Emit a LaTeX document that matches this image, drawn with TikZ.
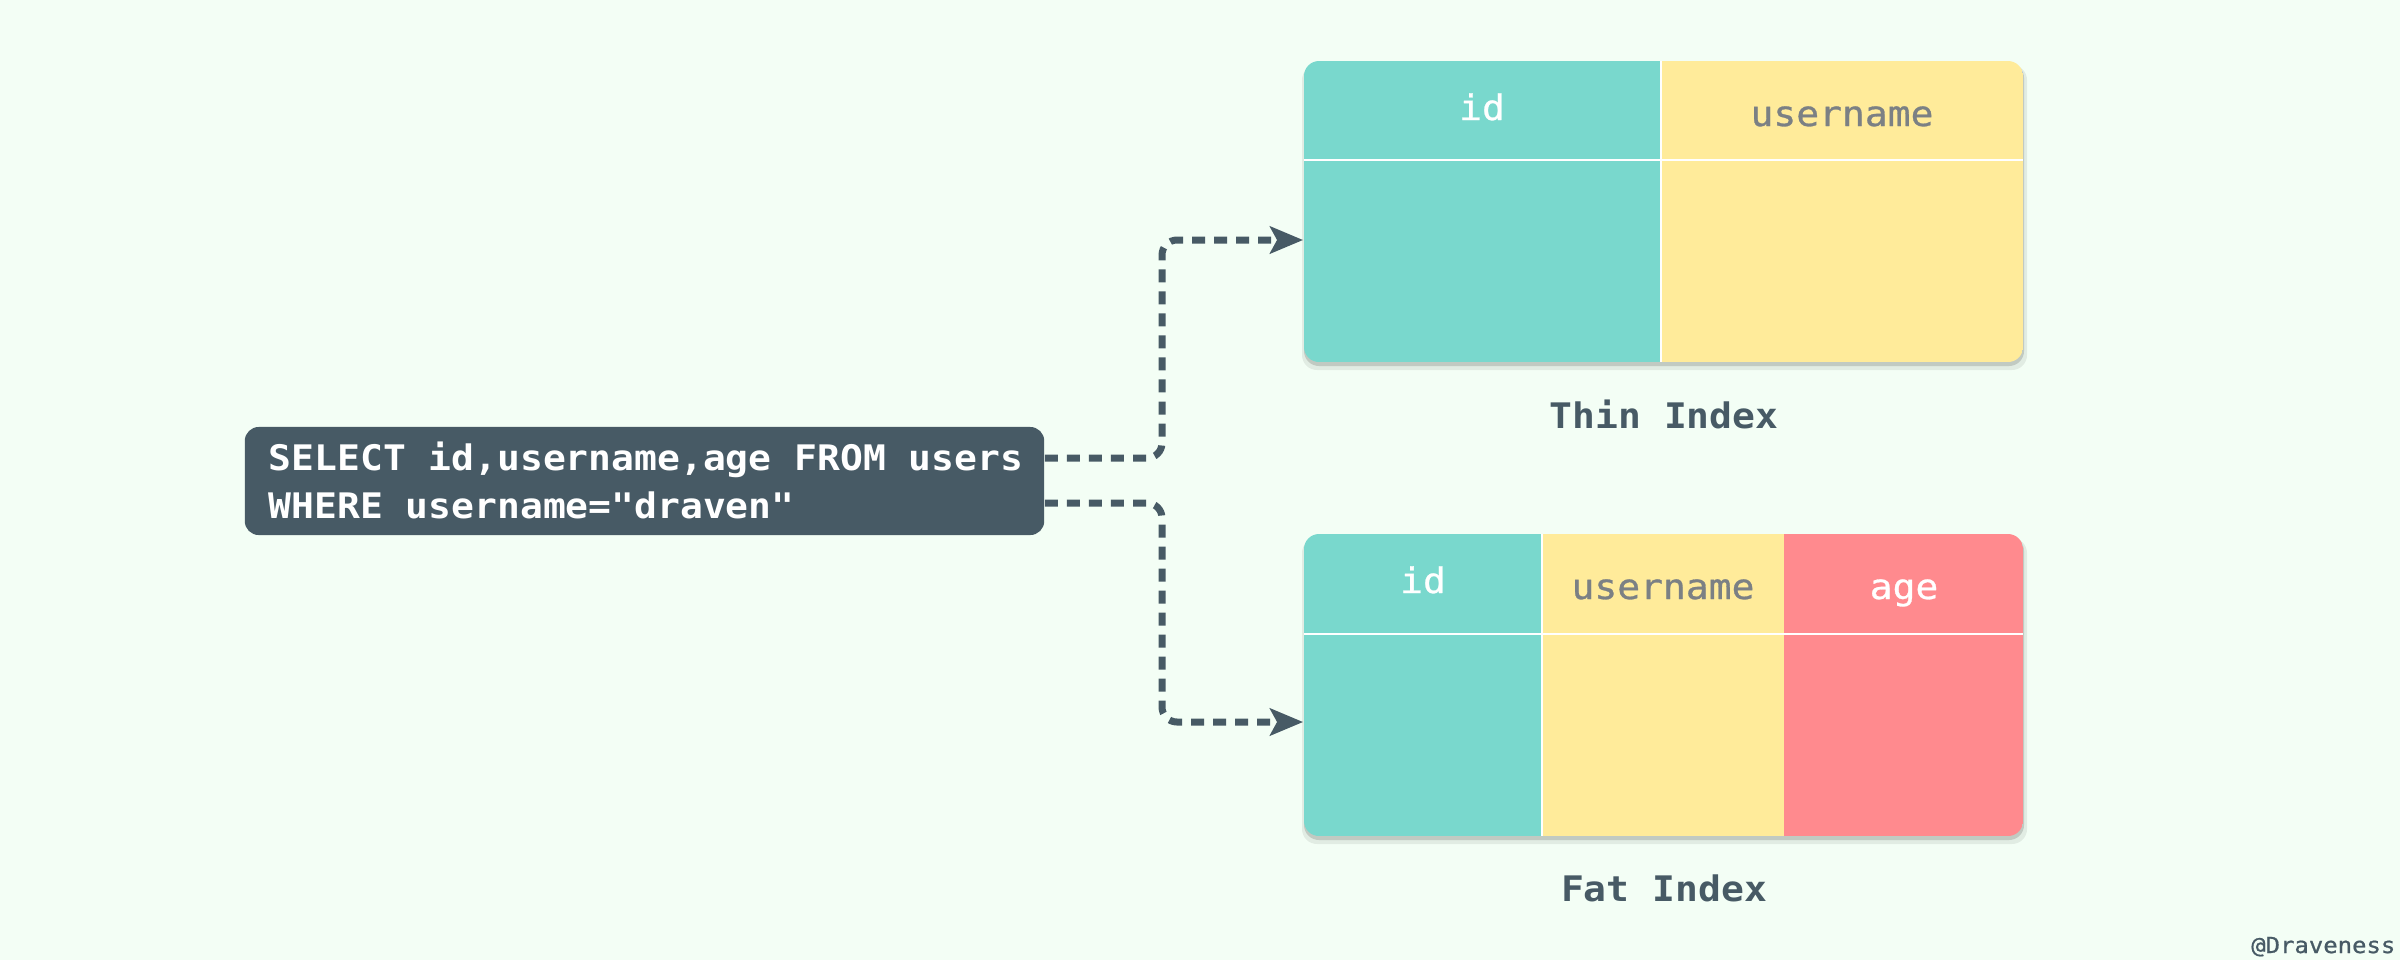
\documentclass[tikz,border=0pt]{standalone}
\usepackage{fontspec}
\usetikzlibrary{arrows.meta,calc}
\newfontfamily\codefont[FakeStretch=1.08]{DejaVu Sans Mono}
\newfontfamily\hdrfont[FakeStretch=1.08,FakeBold=0.8]{DejaVu Sans Mono}
\definecolor{bg}{HTML}{F3FEF5}
\definecolor{tealc}{HTML}{79D8CD}
\definecolor{yellowc}{HTML}{FFEB9A}
\definecolor{redc}{HTML}{FF8A8E}
\definecolor{darkc}{HTML}{475A65}
\definecolor{grayc}{HTML}{7B8084}
\tikzset{
  tblbox/.style={inner sep=0pt, minimum width=7.19cm, minimum height=3.01cm},
  sqlbox/.style={fill=darkc, rounded corners=0.14cm, inner sep=0pt, minimum width=7.99cm, minimum height=1.08cm},
  sqltext/.style={text=white, font=\codefont\bfseries\fontsize{10}{12}\selectfont, anchor=base west, inner sep=0pt},
  hdrw/.style={text=white, font=\hdrfont\fontsize{10}{12}\selectfont, anchor=base, inner sep=0pt},
  hdrg/.style={text=grayc, font=\hdrfont\fontsize{10}{12}\selectfont, anchor=base, inner sep=0pt},
  caption/.style={text=darkc, font=\codefont\bfseries\fontsize{10}{12}\selectfont, anchor=base, inner sep=0pt},
  sign/.style={text=darkc, font=\hdrfont\fontsize{6.3}{8}\selectfont, anchor=base east, inner sep=0pt},
  conn/.style={draw=darkc, line width=0.07cm, dash pattern=on 0.13cm off 0.09cm, rounded corners=0.15cm,
    -{Stealth[length=0.33cm, width=0.27cm, inset=0.07cm]}},
  divider/.style={draw=white, line width=0.025cm},
  shadowc/.style={fill=black, rounded corners=0.15cm}
}
\begin{document}
\begin{tikzpicture}[x=0.01cm,y=-0.01cm]
\useasboundingbox[fill=bg] (0,0) rectangle (2400,960);

% ---- thin index table ----
\fill[shadowc, opacity=0.07] (1302,65) rectangle (2027,370);
\fill[shadowc, opacity=0.14] (1304,63) rectangle (2024,366);
\node[tblbox] (thin) at (1663.5,211) {};
\begin{scope}
  \clip[rounded corners=0.15cm] (1304,61) rectangle (2023,362);
  \fill[tealc] (1304,61) rectangle (1661,362);
  \fill[yellowc] (1661,61) rectangle (2023,362);
  \draw[divider] (1661,61) -- (1661,362);
  \draw[divider] (1304,160) -- (2023,160);
\end{scope}
\node[hdrw] (thinid) at (1482,120) {id};
\node[hdrg] (thinuser) at (1842,126) {username};
\node[caption] (thincap) at (1664,428) {Thin Index};

% ---- fat index table ----
\fill[shadowc, opacity=0.07] (1302,538) rectangle (2027,844);
\fill[shadowc, opacity=0.14] (1304,536) rectangle (2024,840);
\node[tblbox, minimum height=3.02cm] (fat) at (1663.5,685) {};
\begin{scope}
  \clip[rounded corners=0.15cm] (1304,534) rectangle (2023,836);
  \fill[tealc] (1304,534) rectangle (1542,836);
  \fill[yellowc] (1542,534) rectangle (1784,836);
  \fill[redc] (1784,534) rectangle (2023,836);
  \draw[divider] (1542,534) -- (1542,836);
  \draw[divider] (1304,634) -- (2023,634);
\end{scope}
\node[hdrw] (fatid) at (1423,593) {id};
\node[hdrg] (fatuser) at (1663,599) {username};
\node[hdrw] (fatage) at (1904,599) {age};
\node[caption] (fatcap) at (1664,901) {Fat Index};

% ---- query box ----
\node[sqlbox] (sql) at (644.5,481) {};
\node[sqltext] (sql1) at (268,470) {SELECT id,username,age FROM users};
\node[sqltext] (sql2) at (268,518) {WHERE username="draven"};

% ---- connectors ----
\draw[conn] ($(sql.east)+(0,-23)$) -- (1162,458) -- (1162,240) -- ($(thin.west)+(0,29)$);
\draw[conn] ($(sql.east)+(0,22)$) -- (1162,503) -- (1162,722) -- ($(fat.west)+(0,37)$);

% ---- signature ----
\node[sign] (signature) at (2396,953) {@Draveness};
\end{tikzpicture}
\end{document}
